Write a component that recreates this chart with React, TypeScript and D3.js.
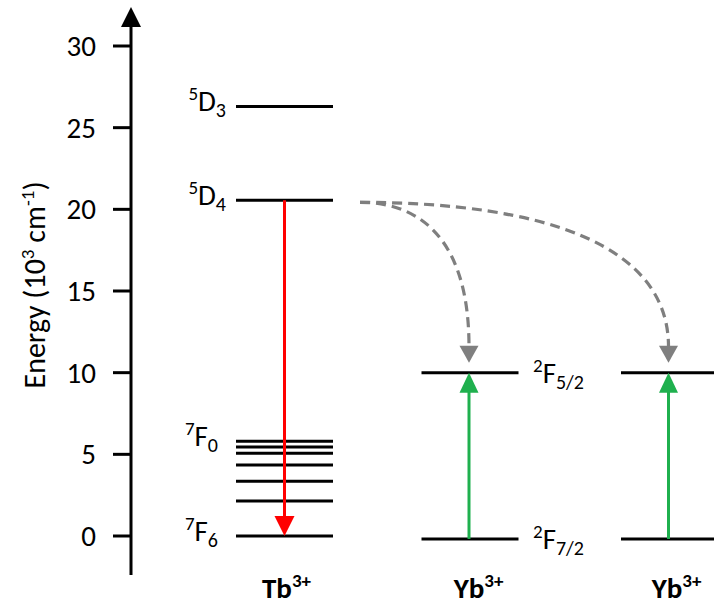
import React from "react";
import * as d3 from "d3";

const yTicks = [0, 5, 10, 15, 20, 25, 30];
const tbLevels = [0, 2.14, 3.35, 4.35, 5.06, 5.45, 5.8, 20.55, 26.3];
const ybLevels = [-0.18, 10.0];
const ions = ["Tb", "Yb1", "Yb2"];
const ionLabels = ["Tb", "Yb", "Yb"];
const tbLevelLabels = [
  { sup: "5", main: "D", sub: "3", e: 26.3 },
  { sup: "5", main: "D", sub: "4", e: 20.55 },
  { sup: "7", main: "F", sub: "0", e: 5.8 },
  { sup: "7", main: "F", sub: "6", e: 0 },
];
const ybLevelLabels = [
  { sup: "2", main: "F", sub: "5/2", e: 10.0 },
  { sup: "2", main: "F", sub: "7/2", e: -0.18 },
];
const emission = { from: 20.55, to: 0 };
const absorption = { from: -0.18, to: 10.0 };
const transfer = { from: 20.55, to: 10.0 };

const FONT = "Carlito, Lato, 'Open Sans', sans-serif";

export default function App() {
  const W = 714, H = 606;
  const y = d3.scaleLinear().domain([0, 30]).range([536, 46]);
  const xc = d3.scaleOrdinal<string, number>().domain(ions).range([284.5, 470, 669.5]);
  const labelX = d3.scaleOrdinal<string, number>().domain(ions).range([286.5, 478.5, 676.5]);
  const halfW = 48.5;
  const axisX = 131;

  const head = (x: number, tipY: number, dir: number, w: number, h: number) =>
    `M${x},${tipY} L${x - w / 2},${tipY - dir * h} L${x + w / 2},${tipY - dir * h} Z`;

  const startX = 360;
  const curve = (tx: number) => {
    const p = d3.path();
    const sy = y(transfer.from) + 2;
    const ey = y(transfer.to) - 26;
    p.moveTo(startX, sy);
    p.bezierCurveTo(startX + (tx - startX) * 0.6, sy, tx, sy + (ey - sy) * 0.3, tx, ey);
    return p.toString();
  };

  return (
    <svg width={W} height={H} style={{ position: "absolute", left: 0, top: 0, background: "#fff" }} fontFamily={FONT}>
      {/* axis */}
      <line x1={axisX} x2={axisX} y1={24} y2={575} stroke="#000" strokeWidth={3} />
      <path d={head(axisX, 7, -1, 20, 20)} fill="#000" />
      {yTicks.map((t) => (
        <g key={t}>
          <line x1={113} x2={axisX} y1={y(t)} y2={y(t)} stroke="#000" strokeWidth={3} />
          <text x={96} y={y(t) + 10} textAnchor="end" fontSize={29} fill="#000">{t}</text>
        </g>
      ))}
      <text transform={`translate(45,285) rotate(-90)`} textAnchor="middle" fontSize={30} fill="#000">
        Energy (10<tspan fontSize={19} dy={-11}>3</tspan><tspan dy={11}> cm</tspan><tspan fontSize={19} dy={-11}>-1</tspan><tspan dy={11}>)</tspan>
      </text>

      {/* Tb levels */}
      {tbLevels.map((e, i) => (
        <line key={i} x1={xc("Tb") - halfW} x2={xc("Tb") + halfW} y1={y(e)} y2={y(e)} stroke="#000" strokeWidth={3} />
      ))}
      {/* Yb levels */}
      {["Yb1", "Yb2"].map((ion) =>
        ybLevels.map((e, i) => (
          <line key={ion + i} x1={xc(ion) - halfW} x2={xc(ion) + halfW} y1={y(e)} y2={y(e)} stroke="#000" strokeWidth={3} />
        ))
      )}

      {/* level labels */}
      {tbLevelLabels.map((l, i) => (
        <text key={i} x={l.main === "D" ? 226 : 218} y={y(l.e) + 5} textAnchor="end" fontSize={29} fill="#000">
          <tspan fontSize={19} dy={-11}>{l.sup}</tspan>
          <tspan dy={11}>{l.main}</tspan>
          <tspan fontSize={20} dy={6}>{l.sub}</tspan>
        </text>
      ))}
      {ybLevelLabels.map((l, i) => (
        <text key={i} x={533} y={y(l.e) + 10} textAnchor="start" fontSize={29} fill="#000">
          <tspan fontSize={19} dy={-11}>{l.sup}</tspan>
          <tspan dy={11}>{l.main}</tspan>
          <tspan fontSize={20} dy={6}>{l.sub}</tspan>
        </text>
      ))}

      {/* emission arrow */}
      <line x1={xc("Tb")} x2={xc("Tb")} y1={y(emission.from)} y2={y(emission.to) - 18} stroke="#ff0000" strokeWidth={3} />
      <path d={head(xc("Tb"), y(emission.to), 1, 20, 20)} fill="#ff0000" />

      {/* absorption arrows */}
      {["Yb1", "Yb2"].map((ion) => (
        <g key={ion}>
          <line x1={xc(ion) - 1} x2={xc(ion) - 1} y1={y(absorption.from)} y2={y(absorption.to) + 18} stroke="#1fb04e" strokeWidth={3} />
          <path d={head(xc(ion) - 1, y(absorption.to), -1, 19, 20)} fill="#1fb04e" />
        </g>
      ))}

      {/* energy transfer arrows */}
      {["Yb1", "Yb2"].map((ion) => (
        <g key={ion}>
          <path d={curve(xc(ion) - 1)} fill="none" stroke="#7f7f7f" strokeWidth={3.2} strokeDasharray="10,6" />
          <path d={head(xc(ion) - 1, y(transfer.to) - 10, 1, 19, 17)} fill="#7f7f7f" />
        </g>
      ))}

      {/* ion labels */}
      {ions.map((ion, i) => (
        <text key={ion} x={labelX(ion)} y={598} textAnchor="middle" fontSize={29} fontWeight="bold" fill="#000">
          {ionLabels[i]}<tspan fontSize={19} dy={-11}>3+</tspan>
        </text>
      ))}
    </svg>
  );
}
